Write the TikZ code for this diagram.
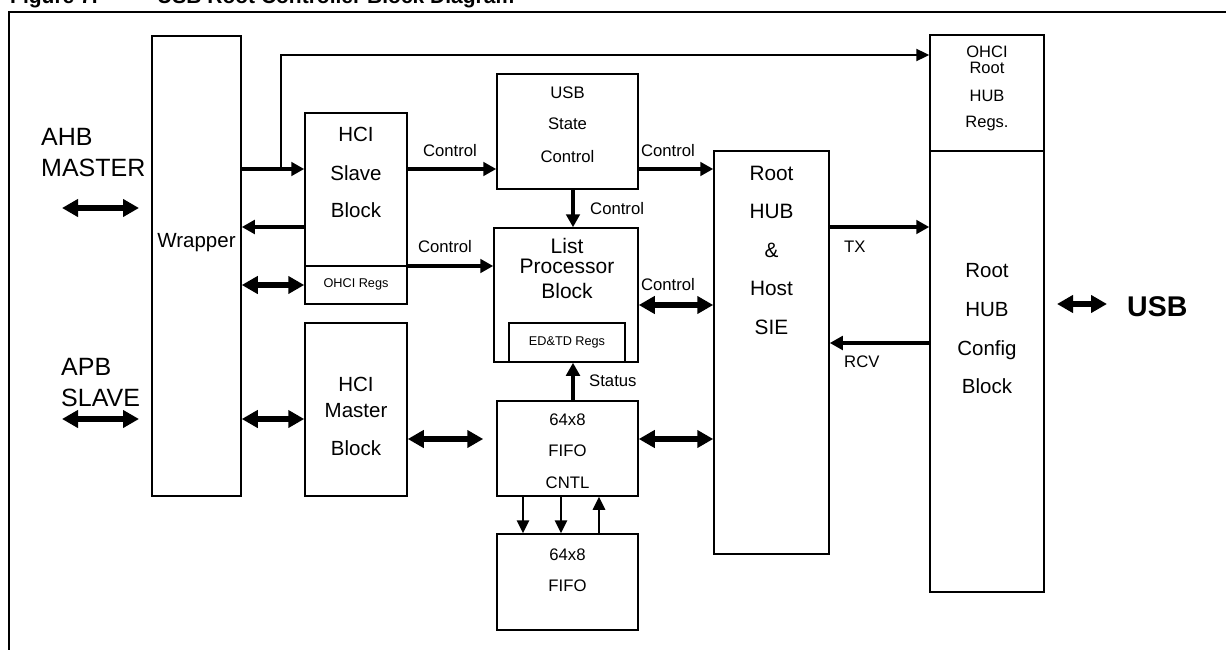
\documentclass[tikz,border=0pt]{standalone}
\usepackage{fontspec}
\setmainfont{Liberation Sans}
\usetikzlibrary{arrows.meta,fit}
\newcommand\myfs[1]{\fontsize{#1}{#1}\selectfont}
\begin{document}
\begin{tikzpicture}[x=1pt,y=-1pt,
  box/.style={draw, line width=1.5pt, inner sep=0pt},
  lbl/.style={inner sep=0pt, anchor=base},
  lblw/.style={inner sep=0pt, anchor=base west},
  big/.style={font=\myfs{20.5}},
  mid/.style={font=\myfs{16.7}},
  sml/.style={font=\myfs{12.7}},
  sarrow/.style={line width=4.2pt, -{Triangle[length=13pt,width=13.5pt]}},
  darrow/.style={line width=5.5pt, {Triangle[length=16pt,width=17pt]}-{Triangle[length=16pt,width=17pt]}},
  tarrow/.style={line width=2.3pt, -{Triangle[length=13pt,width=12pt]}},
  farrow/.style={line width=2.7pt, -{Triangle[length=13pt,width=12pt]}}
]
\useasboundingbox (0,0) rectangle (1226,650);
\clip (0,0) rectangle (1226,650);
\fill[white] (0,0) rectangle (1226,650);

% title (cut off at top) and frame
\node[lblw, font=\bfseries\myfs{21}] (title1) at (10,4) {Figure 7.};
\node[lblw, font=\bfseries\myfs{21}] (title2) at (157,4) {USB Root Controller Block Diagram};
\draw[line width=2.6pt] (1260,12) -- (9,12) -- (9,680);

% boxes
\node[box, fit={(152,36) (241,496)}] (wrap) {};
\node[box, fit={(305,113) (407,266)}] (slave) {};
\node[box, fit={(305,266) (407,304)}] (oregs) {};
\node[box, fit={(305,323) (407,496)}] (master) {};
\node[box, fit={(497,74) (638,189)}] (usc) {};
\node[box, fit={(494,228) (638,362)}] (lp) {};
\node[box, fit={(509,323) (625,362)}] (edtd) {};
\node[box, fit={(497,401) (638,496)}] (fcntl) {};
\node[box, fit={(497,534) (638,630)}] (fifo) {};
\node[box, fit={(714,151) (829,554)}] (sie) {};
\node[box, fit={(930,35) (1044,151)}] (ohr) {};
\node[box, fit={(930,151) (1044,592)}] (cfg) {};

% box texts
\node[lbl, big] (tw) at (196.5,247) {Wrapper};
\node[lbl, big] (ts1) at (356,142) {HCI};
\node[lbl, big] (ts2) at (356,180) {Slave};
\node[lbl, big] (ts3) at (356,217) {Block};
\node[lbl, sml] (to) at (356,287) {OHCI Regs};
\node[lbl, big] (tm1) at (356,391) {HCI};
\node[lbl, big] (tm2) at (356,417) {Master};
\node[lbl, big] (tm3) at (356,455) {Block};
\node[lbl, mid] (tu1) at (567.5,99) {USB};
\node[lbl, mid] (tu2) at (567.5,130) {State};
\node[lbl, mid] (tu3) at (567.5,162) {Control};
\node[lbl, font=\myfs{21}] (tl1) at (567,253) {List};
\node[lbl, font=\myfs{21}] (tl2) at (567,273) {Processor};
\node[lbl, font=\myfs{21}] (tl3) at (567,298) {Block};
\node[lbl, sml] (te) at (567,345) {ED\&TD Regs};
\node[lbl, mid] (tf1) at (567.5,425) {64x8};
\node[lbl, mid] (tf2) at (567.5,456) {FIFO};
\node[lbl, mid] (tf3) at (567.5,488) {CNTL};
\node[lbl, mid] (tg1) at (567.5,560) {64x8};
\node[lbl, mid] (tg2) at (567.5,591) {FIFO};
\node[lbl, font=\myfs{20.8}] (tr1) at (771.5,180) {Root};
\node[lbl, font=\myfs{20.8}] (tr2) at (771.5,218) {HUB};
\node[lbl, font=\myfs{20.8}] (tr3) at (771.5,257) {\&};
\node[lbl, font=\myfs{20.8}] (tr4) at (771.5,295) {Host};
\node[lbl, font=\myfs{20.8}] (tr5) at (771.5,334) {SIE};
\node[lbl, font=\myfs{16.5}] (th1) at (987,58) {OHCI};
\node[lbl, font=\myfs{16.5}] (th2) at (987,74) {Root};
\node[lbl, font=\myfs{16.5}] (th3) at (987,102) {HUB};
\node[lbl, font=\myfs{16.5}] (th4) at (987,128) {Regs.};
\node[lbl, big] (tc1) at (987,277) {Root};
\node[lbl, big] (tc2) at (987,316) {HUB};
\node[lbl, big] (tc3) at (987,355) {Config};
\node[lbl, big] (tc4) at (987,393) {Block};

% outside labels
\node[lblw, font=\myfs{25}] (ahb1) at (41,146) {AHB};
\node[lblw, font=\myfs{25}] (ahb2) at (41,176) {MASTER};
\node[lblw, font=\myfs{25}] (apb1) at (61,375) {APB};
\node[lblw, font=\myfs{25}] (apb2) at (61,406) {SLAVE};
\node[lblw, font=\bfseries\myfs{28.5}] (usb) at (1127,316) {USB};

\node[lbl, mid] (c1) at (450,157) {Control};
\node[lbl, mid] (c2) at (668,157) {Control};
\node[lblw, mid] (c3) at (590,214) {Control};
\node[lbl, mid] (c4) at (445,252) {Control};
\node[lbl, mid] (c5) at (668,290) {Control};
\node[lblw, mid] (st) at (589,386) {Status};
\node[lblw, mid] (tx) at (844,252) {TX};
\node[lblw, mid] (rcv) at (844,367) {RCV};

% free ends
\coordinate (ahbL) at (62,208);
\coordinate (ahbR) at (139,208);
\coordinate (apbL) at (62,419);
\coordinate (apbR) at (139,419);
\coordinate (usbL) at (1057,304);
\coordinate (usbR) at (1107,304);
\coordinate (br) at (281,169);

% connectors
\draw[darrow] (ahbL) -- (ahbR);
\draw[darrow] (apbL) -- (apbR);
\draw[darrow] (usbL) -- (usbR);

\draw[sarrow] (wrap.east |- 0,169) -- (slave.west |- 0,169);
\draw[tarrow] (br) |- (ohr.west |- 0,55);
\draw[sarrow] (slave.west |- 0,227) -- (wrap.east |- 0,227);
\draw[darrow] (wrap.east |- 0,285) -- (oregs.west |- 0,285);
\draw[darrow] (wrap.east |- 0,419) -- (master.west |- 0,419);

\draw[sarrow] (slave.east |- 0,169) -- (usc.west |- 0,169);
\draw[sarrow] (usc.east |- 0,169) -- (sie.west |- 0,169);
\draw[sarrow] (usc.south -| 573,0) -- (lp.north -| 573,0);
\draw[sarrow] (slave.east |- 0,266) -- (lp.west |- 0,266);
\draw[darrow] (lp.east |- 0,305) -- (sie.west |- 0,305);
\draw[sarrow] (fcntl.north -| 573,0) -- (lp.south -| 573,0);
\draw[darrow, shorten >=13pt] (master.east |- 0,439) -- (fcntl.west |- 0,439);
\draw[darrow] (fcntl.east |- 0,439) -- (sie.west |- 0,439);

\draw[farrow] (fcntl.south -| 523,0) -- (fifo.north -| 523,0);
\draw[farrow] (fcntl.south -| 561,0) -- (fifo.north -| 561,0);
\draw[farrow] (fifo.north -| 599,0) -- (fcntl.south -| 599,0);

\draw[sarrow] (sie.east |- 0,227) -- (cfg.west |- 0,227);
\draw[sarrow] (cfg.west |- 0,343) -- (sie.east |- 0,343);
\end{tikzpicture}
\end{document}
